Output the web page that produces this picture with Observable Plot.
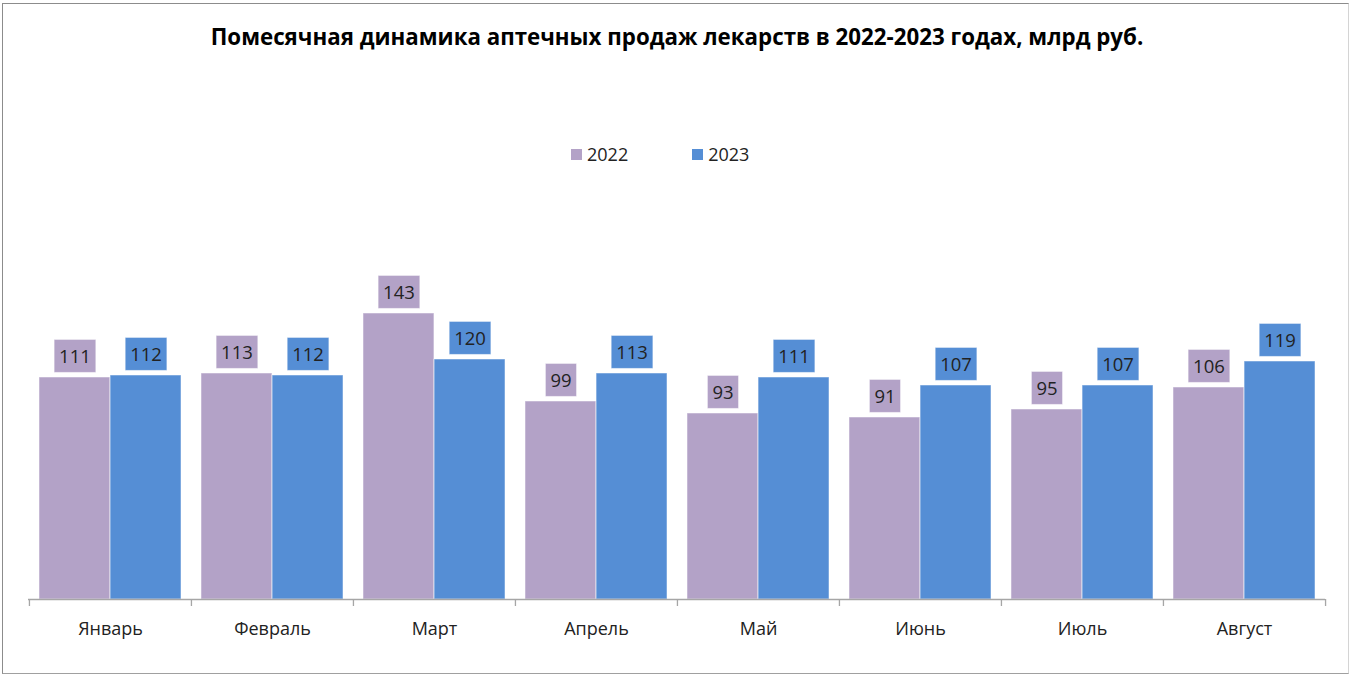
<!DOCTYPE html>
<html>
<head>
<meta charset="utf-8">
<script src="https://cdn.jsdelivr.net/npm/d3@7"></script>
<script src="https://cdn.jsdelivr.net/npm/@observablehq/plot@0.6"></script>
<style>
  body { margin: 0; background: #fff; }
  #wrap { position: relative; width: 1350px; height: 679px; overflow: hidden; font-family: "Open Sans", sans-serif; }
  #frame { position: absolute; left: 2px; top: 3px; width: 1347px; height: 671px; border: 1px solid #8c8c8c; border-right-color: #d4d4d4; border-bottom-color: #a0a0a0; box-sizing: border-box; }
  #title { position: absolute; left: 0; top: 21px; width: 1354px; text-align: center; font-weight: 700; font-size: 22.3px; color: #000; }
  #legend { position: absolute; left: 571px; top: 142px; display: flex; font-size: 18px; color: #222; }
  .item { display: flex; align-items: center; margin-right: 64px; }
  .sw { width: 11px; height: 11px; margin-right: 5px; }
  #chart { position: absolute; left: 0; top: 0; }
</style>
</head>
<body>
<div id="wrap">
  <div id="frame"></div>
  <div id="title"></div>
  <div id="legend"></div>
  <div id="chart"></div>
</div>
<script>
const title = "Помесячная динамика аптечных продаж лекарств в 2022-2023 годах, млрд руб.";
const months = ["Январь", "Февраль", "Март", "Апрель", "Май", "Июнь", "Июль", "Август"];
const series = ["2022", "2023"];
const values2022 = [111, 113, 143, 99, 93, 91, 95, 106];
const values2023 = [112, 112, 120, 113, 111, 107, 107, 119];
const colors = ["#b3a2c7", "#558ed5"];

const W = 1350, H = 679;
const ml = 28, mr = 25, mt = 199, mb = 80;
const step = (W - ml - mr) / months.length;
const half = step / 2;
const edge = 10;
const barW = half - edge;
const off = half - edge - barW / 2; // offset of bar centre from band centre

document.getElementById("title").textContent = title;
const leg = document.getElementById("legend");
series.forEach((s, i) => {
  const it = document.createElement("div");
  it.className = "item";
  it.innerHTML = `<span class="sw" style="background:${colors[i]}"></span><span>${s}</span>`;
  leg.appendChild(it);
});

const d22 = months.map((m, i) => ({month: m, value: values2022[i]}));
const d23 = months.map((m, i) => ({month: m, value: values2023[i]}));

const plot = Plot.plot({
  width: W, height: H,
  marginLeft: ml, marginRight: mr, marginTop: mt, marginBottom: mb,
  style: {fontFamily: "Open Sans, sans-serif", background: "transparent", overflow: "visible"},
  x: {type: "band", domain: months, padding: 0, label: null},
  y: {domain: [0, 200], axis: null},
  marks: [
    Plot.barY(d22, {x: "month", y: "value", fill: colors[0], insetLeft: edge, insetRight: half, stroke: "#fff", strokeOpacity: 0.5, strokeWidth: 1}),
    Plot.barY(d23, {x: "month", y: "value", fill: colors[1], insetLeft: half, insetRight: edge, stroke: "#fff", strokeOpacity: 0.5, strokeWidth: 1}),
    Plot.ruleY([0], {stroke: "#a6a6a6", strokeWidth: 1.3}),
    Plot.axisX({tickSize: 7, dx: -half, tickFormat: () => "", label: null, stroke: "#a6a6a6", strokeWidth: 1.3, strokeOpacity: 1}),
    Plot.axisX([months[months.length - 1]], {tickSize: 7, dx: half, tickFormat: () => "", label: null, stroke: "#a6a6a6", strokeWidth: 1.3, strokeOpacity: 1}),
    Plot.axisX({tickSize: 0, tickPadding: 23, fontSize: 18, fill: "#222", label: null}),
    Plot.text(d22, {x: "month", y: "value", text: d => String(d.value), dx: -off, dy: -20, fontSize: 18.5, fill: "#222", lineAnchor: "middle"}),
    Plot.text(d23, {x: "month", y: "value", text: d => String(d.value), dx: off, dy: -20, fontSize: 18.5, fill: "#222", lineAnchor: "middle"})
  ]
});
document.getElementById("chart").appendChild(plot);

// label boxes behind value labels
const groups = plot.querySelectorAll('g[aria-label="text"]');
groups.forEach((g, gi) => {
  g.querySelectorAll("text").forEach(t => {
    const b = t.getBBox();
    const r = document.createElementNS("http://www.w3.org/2000/svg", "rect");
    const padX = 5, padY = 4;
    r.setAttribute("x", b.x - padX);
    r.setAttribute("y", b.y - padY);
    r.setAttribute("width", b.width + 2 * padX);
    r.setAttribute("height", b.height + 2 * padY);
    r.setAttribute("fill", colors[gi]);
    r.setAttribute("stroke", "#fff");
    r.setAttribute("stroke-opacity", "0.5");
    if (t.getAttribute("transform")) r.setAttribute("transform", t.getAttribute("transform"));
    g.insertBefore(r, t);
  });
});
</script>
</body>
</html>
